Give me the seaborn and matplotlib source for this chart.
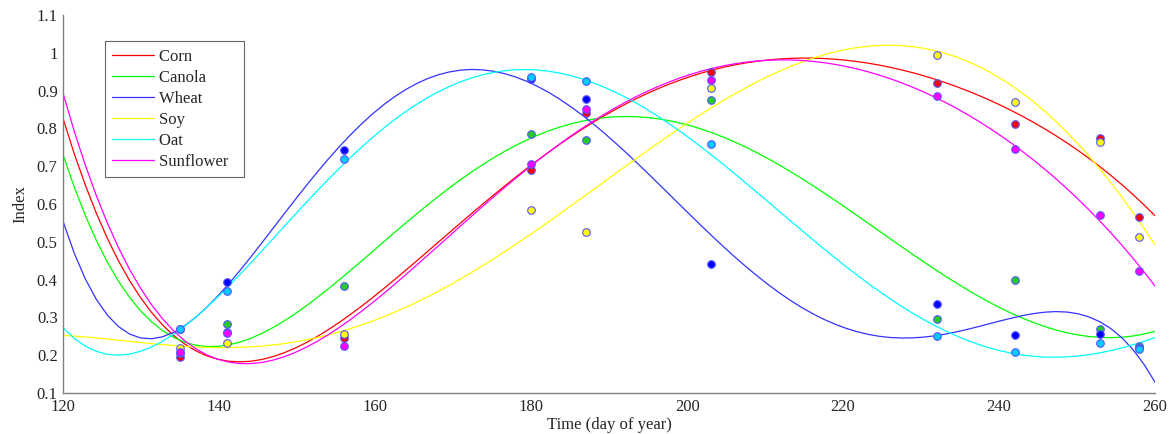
import numpy as np
import pandas as pd
import matplotlib
matplotlib.use("Agg")
import matplotlib.pyplot as plt
import seaborn as sns

# sample days and index values
days = [135, 141, 156, 180, 187, 203, 232, 242, 253, 258]
corn = [0.196, 0.262, 0.246, 0.690, 0.841, 0.950, 0.920, 0.812, 0.774, 0.565]
canola = [0.206, 0.283, 0.383, 0.785, 0.769, 0.876, 0.297, 0.400, 0.268, 0.225]
wheat = [0.268, 0.394, 0.743, 0.930, 0.878, 0.440, 0.336, 0.253, 0.256, 0.220]
soy = [0.218, 0.231, 0.256, 0.583, 0.527, 0.906, 0.993, 0.871, 0.765, 0.513]
oat = [0.270, 0.371, 0.720, 0.935, 0.925, 0.758, 0.250, 0.209, 0.232, 0.216]
sunflower = [0.208, 0.260, 0.224, 0.705, 0.850, 0.927, 0.886, 0.746, 0.572, 0.424]

crops = ["Corn", "Canola", "Wheat", "Soy", "Oat", "Sunflower"]
values = [corn, canola, wheat, soy, oat, sunflower]
line_colors = ["#ff0000", "#00ff00", "#3333ff", "#ffff00", "#00ffff", "#ff00ff"]
dot_colors = ["#ff0000", "#22cc22", "#0000ff", "#ffff00", "#00ccff", "#ff00ff"]

df = pd.DataFrame({"day": days * len(crops),
                   "index": sum(values, []),
                   "crop": np.repeat(crops, len(days))})

sns.set_style("white")
plt.rcParams["font.family"] = ["Liberation Serif", "DejaVu Serif"]
plt.rcParams["font.size"] = 12

fig = plt.figure(figsize=(11.72, 4.34), dpi=100)
ax = fig.add_axes([0.054, 0.0945, 0.9315, 0.871])
ax.set_xlim(120, 260)
ax.set_ylim(0.1, 1.1)

# polynomial fits (5th order) over the full axis range
for crop, lc in zip(crops, line_colors):
    sub = df[df["crop"] == crop]
    sns.regplot(x="day", y="index", data=sub, order=5, ci=None, truncate=False,
                scatter=False, ax=ax, label=crop,
                line_kws={"color": lc, "lw": 0.9})

for crop, dc in zip(crops, dot_colors):
    sub = df[df["crop"] == crop]
    sns.scatterplot(x="day", y="index", data=sub, ax=ax, color=dc, s=30,
                    edgecolor="#5555ff", linewidth=0.8, legend=False, zorder=3)

ax.set_xlim(120, 260)
ax.set_ylim(0.1, 1.1)
ax.set_xticks(range(120, 261, 20))
ax.set_yticks(np.arange(0.1, 1.11, 0.1))
ax.set_yticklabels(["0.1", "0.2", "0.3", "0.4", "0.5", "0.6", "0.7", "0.8", "0.9", "1", "1.1"])
ax.set_xlabel("Time (day of year)", fontsize=12, labelpad=2)
ax.set_ylabel("Index", fontsize=12, labelpad=6)
ax.tick_params(direction="in", length=7, width=0.8, color="#404040", labelsize=12, pad=4)
for s in ["top", "right"]:
    ax.spines[s].set_visible(False)
for s in ["left", "bottom"]:
    ax.spines[s].set_color("#808080")
    ax.spines[s].set_linewidth(1.0)

leg = ax.legend(loc="upper left", bbox_to_anchor=(0.038, 0.93), fontsize=12,
                frameon=True, fancybox=False, handlelength=2.5, handletextpad=0.3,
                labelspacing=0.3, borderpad=0.45, borderaxespad=0)
leg.get_frame().set_edgecolor("#404040")
leg.get_frame().set_linewidth(0.8)
# widen the box a little on the right, as in the original
for t in leg.get_texts():
    t.set_text(t.get_text() + "  ")

fig.savefig("out.png", dpi=100)
